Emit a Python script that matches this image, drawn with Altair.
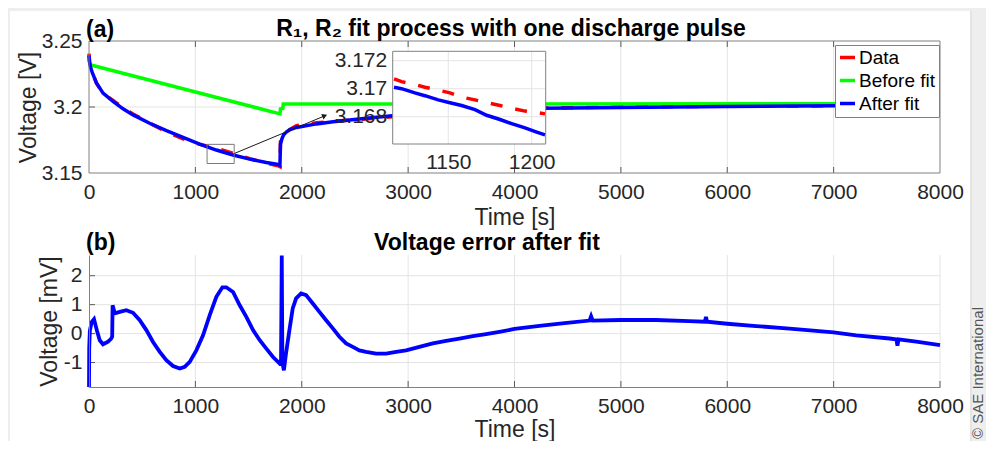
import altair as alt
import pandas as pd

# ---------------- data ----------------
series_names = ["Data", "Before fit", "After fit"]
series_colors = ["#ff0000", "#00ff00", "#0000ff"]

fit_t = [0, 5, 15, 32, 70, 132, 226, 320, 414, 570, 728, 884, 1040, 1197, 1354, 1511, 1667,
         1777, 1795, 1800, 1815, 1830, 1855, 1885, 1950, 2138, 2294, 2607, 2852, 3200, 3600,
         4284, 5000, 6000, 7000, 8000]
fit_v = [3.2390, 3.2340, 3.2300, 3.2258, 3.2182, 3.2105, 3.2042, 3.1986, 3.1940, 3.1877,
         3.1821, 3.1770, 3.1719, 3.1674, 3.1636, 3.1605, 3.1580, 3.1565, 3.1558, 3.1720,
         3.1762, 3.1790, 3.1810, 3.1827, 3.1845, 3.1872, 3.1889, 3.1915, 3.1933, 3.1955,
         3.1972, 3.1991, 3.1996, 3.2003, 3.2009, 3.2012]
data_t = fit_t
data_v = [3.2405, 3.2345, 3.2300, 3.2262, 3.2180, 3.2102, 3.2049, 3.1994, 3.1947, 3.1878,
          3.1812, 3.1758, 3.1718, 3.1688, 3.1650, 3.1608, 3.1575, 3.1555, 3.1548, 3.1740,
          3.1755, 3.1780, 3.1805, 3.1828, 3.1858, 3.1881, 3.1891, 3.1910, 3.1926, 3.1950,
          3.1970, 3.1992, 3.2000, 3.2006, 3.2009, 3.2008]
before_t = [0, 1795, 1800, 1822, 1826, 8000]
before_v = [3.2322, 3.1948, 3.1985, 3.1990, 3.2022, 3.2025]

inset_t = [1117.5, 1122, 1130, 1136, 1144, 1151, 1158, 1166, 1173, 1181, 1188, 1196, 1203, 1208]
inset_data_v = [3.1707, 3.1705, 3.1703, 3.1701, 3.1699, 3.1697, 3.1694, 3.1692, 3.1690,
                3.1688, 3.1686, 3.1684, 3.1683, 3.1682]
inset_fit_v = [3.1701, 3.1700, 3.1697, 3.1695, 3.1692, 3.1690, 3.1688, 3.1685, 3.1681,
               3.1678, 3.1675, 3.1672, 3.1669, 3.1667]

err_t = [0, 2, 8, 25, 47, 75, 101, 132, 179, 210, 218, 222, 242, 289, 351, 414, 477, 539, 602,
         665, 727, 790, 853, 900, 947, 1009, 1072, 1135, 1197, 1254, 1291, 1354, 1417, 1479,
         1542, 1605, 1667, 1730, 1793, 1805, 1812, 1818, 1832, 1852, 1884, 1915, 1947, 1994,
         2041, 2104, 2166, 2229, 2292, 2354, 2417, 2480, 2542, 2605, 2699, 2793, 2887, 2981,
         3106, 3232, 3357, 3482, 3608, 3733, 3858, 4000, 4235, 4470, 4705, 4720, 4735, 5000,
         5329, 5642, 5790, 5800, 5810, 6000, 6272, 6586, 7000, 7213, 7526, 7590, 7600, 7610,
         7777, 8000]
err_mv = [-1.85, -0.5, 0.1, 0.4, 0.5, 0.1, -0.23, -0.37, -0.28, -0.17, -0.1, 0.98, 0.7, 0.75,
          0.81, 0.72, 0.46, 0.12, -0.29, -0.63, -0.92, -1.12, -1.21, -1.15, -0.98, -0.58,
          -0.06, 0.64, 1.27, 1.6, 1.6, 1.44, 0.98, 0.58, 0.12, -0.23, -0.52, -0.81, -1.04,
          -1.0, 2.7, -1.0, -1.27, -0.69, 0.12, 0.87, 1.22, 1.39, 1.33, 1.04, 0.75, 0.46, 0.18,
          -0.11, -0.34, -0.46, -0.58, -0.63, -0.69, -0.69, -0.63, -0.58, -0.46, -0.34, -0.25,
          -0.17, -0.09, -0.02, 0.06, 0.16, 0.27, 0.36, 0.45, 0.6, 0.45, 0.47, 0.47, 0.43,
          0.41, 0.58, 0.41, 0.34, 0.26, 0.17, 0.04, -0.06, -0.17, -0.2, -0.42, -0.2, -0.28,
          -0.40]

time_ticks = [0, 1000, 2000, 3000, 4000, 5000, 6000, 7000, 8000]
top_v_ticks = [3.15, 3.2, 3.25]
err_ticks = [-1, 0, 1, 2]
inset_t_ticks = [1150, 1200]
inset_v_ticks = [3.168, 3.17, 3.172]

zoom_box_t = [1110, 1365]
zoom_box_v = [3.1572, 3.1717]
arrow_t = [1367, 2216]
arrow_v = [3.1648, 3.1933]

panel_labels = ["(a)", "(b)"]
panel_titles = ["R\u2081, R\u2082 fit process with one discharge pulse", "Voltage error after fit"]
axis_titles = ["Time [s]", "Voltage [V]", "Voltage [mV]"]
copyright_text = ["\u00a9 SAE International"]

# ---------------- style ----------------
FONT = "Liberation Sans"
AX = "#808080"
GRID = "#e4e4e4"
TICK = "#5a5a5a"
TXT = "#262626"
W, H = 851, 346
TOP_H = 132
BOT_TOP = 214
IN_X0, IN_X1, IN_Y0, IN_Y1 = 303.7, 456.7, 10.3, 103

xs_top = alt.Scale(domain=[0, 8000], range=[0, W], nice=False, zero=False)
ys_top = alt.Scale(domain=[3.15, 3.25], range=[TOP_H, 0], nice=False, zero=False)
xs_in = alt.Scale(domain=[1116.7, 1208.4], range=[IN_X0, IN_X1], nice=False, zero=False)
ys_in = alt.Scale(domain=[3.16605, 3.17267], range=[IN_Y1, IN_Y0], nice=False, zero=False)
xs_bot = alt.Scale(domain=[0, 8000], range=[0, W], nice=False, zero=False)
ys_bot = alt.Scale(domain=[-1.846, 2.716], range=[H, BOT_TOP], nice=False, zero=False)

lab = dict(labelFont=FONT, labelFontSize=21, labelColor=TXT, labelFlush=False,
           labelOverlap=False, grid=False, ticks=False, tickSize=0, zindex=1)
tit = dict(titleFont=FONT, titleFontSize=23, titleFontWeight="normal", titleColor=TXT)
minus_fix = "replace(datum.label, '\u2212', '-')"

top_x_axis = alt.Axis(orient="bottom", offset=-(H - TOP_H), values=time_ticks, format="d",
                      domain=False, labelPadding=19, labelBaseline="middle",
                      title=axis_titles[0], titleBaseline="alphabetic", titleY=51, **lab, **tit)
top_y_axis = alt.Axis(orient="left", values=top_v_ticks, format=".3~f", domain=False,
                      labelPadding=7, title=axis_titles[1], titleAngle=270, titleX=-54,
                      titleY=66, titleAlign="center", titleBaseline="alphabetic", **lab, **tit)
in_x_axis = alt.Axis(orient="bottom", offset=-(H - IN_Y1), values=inset_t_ticks, format="d",
                     domain=False, labelPadding=18.5, labelBaseline="middle", title=None, **lab)
in_y_axis = alt.Axis(orient="left", offset=-IN_X0, values=inset_v_ticks, format=".3~f",
                     domain=False, labelPadding=6, title=None, **lab)
bot_x_axis = alt.Axis(orient="bottom", values=time_ticks, format="d", domain=True,
                      domainColor=AX, domainWidth=1, labelPadding=19, labelBaseline="middle",
                      title=axis_titles[0], titleBaseline="alphabetic", titleY=49, **lab, **tit)
bot_y_axis = alt.Axis(orient="left", values=err_ticks, format="~f", labelExpr=minus_fix,
                      domain=True, domainColor=AX, domainWidth=1, labelPadding=7,
                      title=axis_titles[2], titleAngle=270, titleX=-33,
                      titleY=(H + BOT_TOP) / 2, titleAlign="center", titleBaseline="alphabetic",
                      **lab, **tit)

# every encoding that shares a scale carries the very same axis definition
def XT(f): return alt.X(f, type="quantitative", scale=xs_top, axis=top_x_axis)
def YT(f): return alt.Y(f, type="quantitative", scale=ys_top, axis=top_y_axis)
def XI(f): return alt.X(f, type="quantitative", scale=xs_in, axis=in_x_axis)
def YI(f): return alt.Y(f, type="quantitative", scale=ys_in, axis=in_y_axis)
def XB(f): return alt.X(f, type="quantitative", scale=xs_bot, axis=bot_x_axis)
def YB(f): return alt.Y(f, type="quantitative", scale=ys_bot, axis=bot_y_axis)

one = pd.DataFrame({"k": [0]})

# ---------------- page frame (grey strips around the white card) ----------------
strips = [
    alt.Chart(one).mark_rect(fill="#eeeeee", strokeWidth=0).encode(
        x=alt.value(881), x2=alt.value(900), y=alt.value(-40), y2=alt.value(400)),
    alt.Chart(one).mark_rect(fill="#e4e4e4", strokeWidth=0).encode(
        x=alt.value(881), x2=alt.value(883), y=alt.value(-30), y2=alt.value(400)),
    alt.Chart(one).mark_rect(fill="#eeeeee", strokeWidth=0).encode(
        x=alt.value(-90), x2=alt.value(900), y=alt.value(-40), y2=alt.value(-30)),
    alt.Chart(one).mark_rect(fill="#eeeeee", strokeWidth=0).encode(
        x=alt.value(-90), x2=alt.value(-79), y=alt.value(-40), y2=alt.value(400)),
]
copyright_mark = alt.Chart(pd.DataFrame({"s": copyright_text})).mark_text(
    font=FONT, fontSize=15, color="#555555", angle=270, align="left", baseline="middle"
).encode(x=alt.value(889), y=alt.value(398), text="s:N")
base0 = alt.layer(*strips, copyright_mark)

# ---------------- top panel ----------------
gx_top = alt.Chart(pd.DataFrame({"t": time_ticks[1:-1]})).mark_rule(color=GRID).encode(
    x=XT("t"), y=alt.value(0), y2=alt.value(TOP_H))
gy_top = alt.Chart(pd.DataFrame({"v": [top_v_ticks[1]]})).mark_rule(color=GRID).encode(
    y=YT("v"), x=alt.value(0), x2=alt.value(W))
tk_top = [
    alt.Chart(pd.DataFrame({"t": time_ticks[1:-1]})).mark_rule(color=TICK).encode(
        x=XT("t"), y=alt.value(TOP_H - 6), y2=alt.value(TOP_H)),
    alt.Chart(pd.DataFrame({"t": time_ticks[1:-1]})).mark_rule(color=TICK).encode(
        x=XT("t"), y=alt.value(0), y2=alt.value(6)),
    alt.Chart(pd.DataFrame({"v": [top_v_ticks[1]]})).mark_rule(color=TICK).encode(
        y=YT("v"), x=alt.value(0), x2=alt.value(6)),
    alt.Chart(pd.DataFrame({"v": [top_v_ticks[1]]})).mark_rule(color=TICK).encode(
        y=YT("v"), x=alt.value(W - 6), x2=alt.value(W)),
]

color = alt.Color("series:N", scale=alt.Scale(domain=series_names, range=series_colors),
                  legend=alt.Legend(orient="none", legendX=746, legendY=4, title=None,
                                    symbolType="stroke", symbolSize=225, symbolStrokeWidth=3.5,
                                    labelFont=FONT, labelFontSize=19, labelColor="#000000",
                                    padding=3, rowPadding=3, labelOffset=2, strokeColor=AX,
                                    fillColor="white", cornerRadius=0))

df_data = pd.DataFrame({"t": data_t, "v": data_v, "series": series_names[0]})
df_before = pd.DataFrame({"t": before_t, "v": before_v, "series": series_names[1]})
df_fit = pd.DataFrame({"t": fit_t, "v": fit_v, "series": series_names[2]})

def top_line(df, **kw):
    return alt.Chart(df).mark_line(strokeWidth=3.5, **kw).encode(
        x=XT("t"), y=YT("v"), color=color)

ln_data = top_line(df_data, strokeDash=[12, 13])
ln_before = top_line(df_before)
ln_fit = top_line(df_fit)

zoom_rect = alt.Chart(pd.DataFrame({"t1": [zoom_box_t[0]], "t2": [zoom_box_t[1]],
                                    "v1": [zoom_box_v[0]], "v2": [zoom_box_v[1]]})).mark_rect(
    fillOpacity=0, stroke="#7a7a7a", strokeWidth=1).encode(
    x=XT("t1"), x2="t2", y=YT("v1"), y2="v2")
arrow_line = alt.Chart(pd.DataFrame({"t1": [arrow_t[0]], "t2": [arrow_t[1]],
                                     "v1": [arrow_v[0]], "v2": [arrow_v[1]]})).mark_rule(
    color="#1a1a1a", strokeWidth=1).encode(
    x=XT("t1"), x2="t2", y=YT("v1"), y2="v2")
arrow_head = alt.Chart(pd.DataFrame({"t": [arrow_t[1]], "v": [arrow_v[1]]})).mark_point(
    shape="triangle-right", filled=True, size=35, angle=337.6, color="#1a1a1a", opacity=1).encode(
    x=XT("t"), y=YT("v"))
frame_top = alt.Chart(one).mark_rect(fillOpacity=0, stroke=AX, strokeWidth=1).encode(
    x=alt.value(0), x2=alt.value(W), y=alt.value(0), y2=alt.value(TOP_H))
lbl_a = alt.Chart(pd.DataFrame({"s": [panel_labels[0]]})).mark_text(
    font=FONT, fontSize=23, fontWeight="bold", align="left", baseline="alphabetic",
    color="#000000").encode(x=alt.value(-3), y=alt.value(-4), text="s:N")
ttl_a = alt.Chart(pd.DataFrame({"s": [panel_titles[0]]})).mark_text(
    font=FONT, fontSize=23, fontWeight="bold", align="center", baseline="alphabetic",
    color="#000000").encode(x=alt.value(422), y=alt.value(-5), text="s:N")

A = alt.layer(gx_top, gy_top, *tk_top, ln_data, ln_before, ln_fit, zoom_rect, arrow_line,
              arrow_head, frame_top, lbl_a, ttl_a)

# ---------------- inset ----------------
in_bg = alt.Chart(one).mark_rect(fill="white", strokeWidth=0).encode(
    x=alt.value(IN_X0), x2=alt.value(IN_X1), y=alt.value(IN_Y0), y2=alt.value(IN_Y1))
in_gx = alt.Chart(pd.DataFrame({"t": inset_t_ticks})).mark_rule(color=GRID).encode(
    x=XI("t"), y=alt.value(IN_Y0), y2=alt.value(IN_Y1))
in_gy = alt.Chart(pd.DataFrame({"v": inset_v_ticks})).mark_rule(color=GRID).encode(
    y=YI("v"), x=alt.value(IN_X0), x2=alt.value(IN_X1))
in_data = alt.Chart(pd.DataFrame({"t": inset_t, "v": inset_data_v})).mark_line(
    strokeWidth=3.5, strokeDash=[12, 13], color=series_colors[0]).encode(x=XI("t"), y=YI("v"))
in_fit = alt.Chart(pd.DataFrame({"t": inset_t, "v": inset_fit_v})).mark_line(
    strokeWidth=3.5, color=series_colors[2]).encode(x=XI("t"), y=YI("v"))
in_frame = alt.Chart(one).mark_rect(fillOpacity=0, stroke=AX, strokeWidth=1).encode(
    x=alt.value(IN_X0), x2=alt.value(IN_X1), y=alt.value(IN_Y0), y2=alt.value(IN_Y1))
B = alt.layer(in_bg, in_gx, in_gy, in_data, in_fit, in_frame)

# ---------------- bottom panel ----------------
gx_bot = alt.Chart(pd.DataFrame({"t": time_ticks[1:]})).mark_rule(color=GRID).encode(
    x=XB("t"), y=alt.value(BOT_TOP), y2=alt.value(H))
gy_bot = alt.Chart(pd.DataFrame({"v": err_ticks})).mark_rule(color=GRID).encode(
    y=YB("v"), x=alt.value(0), x2=alt.value(W))
tk_bot = [
    alt.Chart(pd.DataFrame({"t": time_ticks[1:]})).mark_rule(color=TICK).encode(
        x=XB("t"), y=alt.value(H - 6), y2=alt.value(H)),
    alt.Chart(pd.DataFrame({"v": err_ticks})).mark_rule(color=TICK).encode(
        y=YB("v"), x=alt.value(0), x2=alt.value(6)),
]
ln_err = alt.Chart(pd.DataFrame({"t": err_t, "e": err_mv})).mark_line(
    strokeWidth=3.8, color="#0000ff").encode(x=XB("t"), y=YB("e"))
lbl_b = alt.Chart(pd.DataFrame({"s": [panel_labels[1]]})).mark_text(
    font=FONT, fontSize=23, fontWeight="bold", align="left", baseline="alphabetic",
    color="#000000").encode(x=alt.value(-3), y=alt.value(209), text="s:N")
ttl_b = alt.Chart(pd.DataFrame({"s": [panel_titles[1]]})).mark_text(
    font=FONT, fontSize=23, fontWeight="bold", align="center", baseline="alphabetic",
    color="#000000").encode(x=alt.value(398), y=alt.value(209), text="s:N")
C = alt.layer(gx_bot, gy_bot, *tk_bot, ln_err, lbl_b, ttl_b)

chart = alt.layer(base0, A, B, C).resolve_scale(
    x="independent", y="independent"
).properties(
    width=W, height=H,
    autosize=alt.AutoSizeParams(type="none"),
    padding={"left": 81, "top": 33, "right": 46, "bottom": 54},
    background="white",
).configure_view(strokeWidth=0)

chart.save("out.html", embed_options={"renderer": "svg", "actions": False})
